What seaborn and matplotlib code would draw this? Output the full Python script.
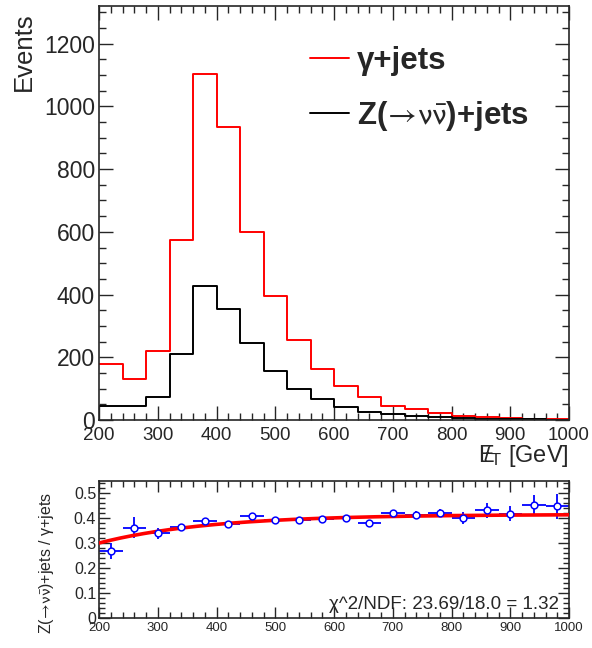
import numpy as np
import pandas as pd
import matplotlib
matplotlib.use("Agg")
import matplotlib.pyplot as plt
import seaborn as sns
from matplotlib.ticker import MultipleLocator, FuncFormatter
from matplotlib.font_manager import FontProperties

# Missing-ET binning (GeV) and event yields per bin
bin_edges = [200, 240, 280, 320, 360, 400, 440, 480, 520, 560, 600,
             640, 680, 720, 760, 800, 840, 880, 920, 960, 1000]
gamma_jets = [179, 131, 219.5, 575, 1102, 935, 600, 396, 256, 163,
              109, 72, 46, 34, 21, 14, 8, 5, 4, 3]
znunu_jets = [46, 46, 72, 209, 427, 354, 245, 156, 100, 66,
              41, 26.5, 18, 14, 8.8, 5.6, 3.5, 2.1, 1.8, 1.35]

# Ratio Z(->nunu)+jets / gamma+jets with uncertainties
ratio_val = [0.268, 0.363, 0.341, 0.365, 0.389, 0.379, 0.408, 0.392, 0.393, 0.397,
             0.403, 0.381, 0.421, 0.415, 0.421, 0.401, 0.432, 0.419, 0.455, 0.449]
ratio_err = [0.032, 0.043, 0.022, 0.010, 0.008, 0.008, 0.010, 0.010, 0.012, 0.012,
             0.012, 0.012, 0.014, 0.014, 0.015, 0.023, 0.030, 0.030, 0.040, 0.050]

# Saturating fit: plateau - amplitude * exp(-(x - 200) / scale)
fit_plateau, fit_amplitude, fit_scale = 0.416, 0.115, 190.0
fit_label = "\u03c7^2/NDF: 23.69/18.0 = 1.32"

sns.set_theme(style="ticks")
plt.rcParams["font.family"] = ["Liberation Sans", "DejaVu Sans"]
plt.rcParams["mathtext.fontset"] = "custom"
plt.rcParams["mathtext.rm"] = "Liberation Sans"
plt.rcParams["mathtext.it"] = "Liberation Sans:italic"
plt.rcParams["mathtext.bf"] = "Liberation Sans:bold"

edges = np.array(bin_edges, dtype=float)
centers = 0.5 * (edges[:-1] + edges[1:])
half_width = 0.5 * np.diff(edges)

W, H = 592, 648
fig = plt.figure(figsize=(W / 100, H / 100), dpi=100)
fig.patch.set_facecolor("white")

def frac(x0, y0, x1, y1):
    return [x0 / W, 1 - y1 / H, (x1 - x0) / W, (y1 - y0) / H]

ax = fig.add_axes(frac(99, 6, 569, 420))
axr = fig.add_axes(frac(99, 481, 569, 618))

gamma_df = pd.DataFrame({"met": centers, "events": gamma_jets})
znunu_df = pd.DataFrame({"met": centers, "events": znunu_jets})
sns.histplot(data=gamma_df, x="met", weights="events", bins=list(bin_edges),
             element="step", fill=False, color="#ff0000", linewidth=1.4, ax=ax)
sns.histplot(data=znunu_df, x="met", weights="events", bins=list(bin_edges),
             element="step", fill=False, color="black", linewidth=1.4, ax=ax)

ax.set_xlim(200, 1000)
ax.set_ylim(0, 1320)
ax.set_xlabel("")
ax.set_ylabel("")
ax.xaxis.set_major_locator(MultipleLocator(100))
ax.xaxis.set_minor_locator(MultipleLocator(20))
ax.yaxis.set_major_locator(MultipleLocator(200))
ax.yaxis.set_minor_locator(MultipleLocator(50))
ax.tick_params(which="both", direction="in", top=True, right=True, width=1.0)
ax.tick_params(axis="x", labelsize=13.5, pad=5)
ax.tick_params(axis="y", labelsize=16.5, pad=3)
ax.tick_params(which="major", length=10)
ax.tick_params(which="minor", length=5)
for s in ax.spines.values():
    s.set_linewidth(1.2)
    s.set_visible(True)

# arrow and neutrinos set in math mode with a STIX sans face
z_label = r"Z($\!\rightarrow\!\mathrm{\nu}\bar{\mathrm{\nu}}$)+jets"
handles = [plt.Line2D([], [], color="#ff0000", lw=1.4),
           plt.Line2D([], [], color="black", lw=1.4)]
labels = ["\u03b3+jets", z_label]
legend_font = FontProperties(family=["Liberation Sans", "DejaVu Sans"], size=22.5,
                             weight="bold", math_fontfamily="stixsans")
ax.legend(handles, labels, loc="upper left", bbox_to_anchor=(0.39, 0.972),
          frameon=False, prop=legend_font,
          handlelength=1.25, handletextpad=0.25, labelspacing=0.75)

fig.text(24 / W, 1 - 12 / H, "Events", rotation=90, ha="center", va="top", fontsize=18.5)
fig.text(569 / W, 1 - 456 / H, r"$\mathrm{E}\!\!\!/_{\mathrm{T}}$ [GeV]",
         ha="right", va="center", fontsize=17)

# Ratio panel
xs = np.linspace(200, 1000, 200)
fit_df = pd.DataFrame({"x": xs,
                       "y": fit_plateau - fit_amplitude * np.exp(-(xs - 200) / fit_scale)})
axr.errorbar(centers, ratio_val, xerr=half_width, yerr=ratio_err, fmt="none",
             ecolor="#0000ff", elinewidth=1.3, zorder=2)
sns.lineplot(data=fit_df, x="x", y="y", color="#ff0000", linewidth=2.6, ax=axr, zorder=3)
sns.scatterplot(x=centers, y=ratio_val, marker="o", s=24, facecolor="white",
                edgecolor="#0000ff", linewidth=1.1, ax=axr, zorder=4)

axr.set_xlim(200, 1000)
axr.set_ylim(0, 0.55)
axr.set_xlabel("")
axr.set_ylabel("")
axr.xaxis.set_major_locator(MultipleLocator(100))
axr.xaxis.set_minor_locator(MultipleLocator(20))
axr.yaxis.set_major_locator(MultipleLocator(0.1))
axr.yaxis.set_minor_locator(MultipleLocator(0.02))
axr.yaxis.set_major_formatter(FuncFormatter(
    lambda v, p: "0" if abs(v) < 1e-9 else f"{v:.1f}"))
axr.tick_params(which="both", direction="in", top=True, right=True, width=1.0)
axr.tick_params(axis="x", labelsize=9.5, pad=3)
axr.tick_params(axis="y", labelsize=11.5, pad=2)
axr.tick_params(which="major", length=8)
axr.tick_params(which="minor", length=4)
for s in axr.spines.values():
    s.set_linewidth(1.2)
    s.set_visible(True)

axr.text(0.978, 0.04, fit_label, transform=axr.transAxes, ha="right", va="bottom",
         fontsize=13.5)
fig.text(46 / W, 1 - 563 / H, z_label + " / \u03b3+jets",
         rotation=90, ha="center", va="center", fontsize=11.5,
         math_fontfamily="stixsans")

fig.savefig("out.png", dpi=100, facecolor="white")
